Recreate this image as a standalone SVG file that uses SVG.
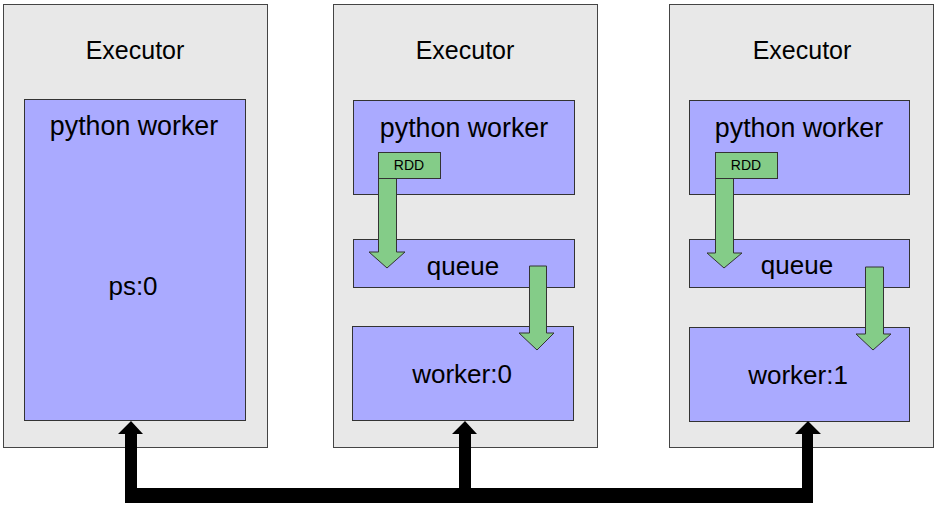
<svg xmlns="http://www.w3.org/2000/svg" width="939" height="511" viewBox="0 0 939 511">
<style>
.exec{fill:#e8e8e8;stroke:#444;stroke-width:1}
.box{fill:#aaaaff;stroke:#333;stroke-width:1}
.green{fill:#84cc88;stroke:#333;stroke-width:1}
.t{font-family:"Liberation Sans",Arial,sans-serif;fill:#000;text-anchor:middle}
.t24{font-size:25px}
.t26{font-size:26px}
.tpw{font-size:26.8px}
.t14{font-size:14px}
.conn{fill:#000;stroke:none}
</style>
<rect width="939" height="511" fill="#fff"/>
<g id="executor-1">
<rect class="exec" x="3.5" y="4.5" width="264" height="443"/>
<text class="t t24" x="135" y="59">Executor</text>
</g>
<g id="ps0">
<rect class="box" x="24.5" y="99.5" width="221" height="321"/>
<text class="t tpw" x="134" y="135">python worker</text>
<text class="t t26" x="133" y="295">ps:0</text>
</g>
<g id="executor-2">
<rect class="exec" x="333.5" y="4.5" width="264" height="443"/>
<text class="t t24" x="465" y="59">Executor</text>
</g>
<g id="python-worker-2">
<rect class="box" x="353.5" y="100.5" width="221" height="94"/>
<text class="t tpw" x="464" y="137">python worker</text>
</g>
<g id="queue-2">
<rect class="box" x="353.5" y="239.5" width="221" height="48"/>
<text class="t t26" x="463" y="275">queue</text>
</g>
<g id="worker0">
<rect class="box" x="352.5" y="326.5" width="221" height="94"/>
<text class="t t26" x="462" y="383">worker:0</text>
</g>
<g id="executor-3">
<rect class="exec" x="669.5" y="4.5" width="264" height="443"/>
<text class="t t24" x="802" y="59">Executor</text>
</g>
<g id="python-worker-3">
<rect class="box" x="689.5" y="100.5" width="220" height="94"/>
<text class="t tpw" x="799" y="137">python worker</text>
</g>
<g id="queue-3">
<rect class="box" x="689.5" y="239.5" width="220" height="48"/>
<text class="t t26" x="797" y="274">queue</text>
</g>
<g id="worker1">
<rect class="box" x="689.5" y="327.5" width="220" height="94"/>
<text class="t t26" x="798" y="384">worker:1</text>
</g>
<g id="connectors">
<polygon class="green" points="378.5,178 396.5,178 396.5,252 405,252 387,268 369,252 378.5,252"/>
<polygon class="green" points="529.5,266 546.5,266 546.5,333 554,333 537,350 519,333 529.5,333"/>
<polygon class="green" points="715.5,178 733.5,178 733.5,253 742,253 724,268 707,253 715.5,253"/>
<polygon class="green" points="865.5,267 883.5,267 883.5,334 891,334 873,350 856,334 865.5,334"/>
<polygon class="conn" points="125,503 813,503 813,434 821,434 808,421 795,434 802,434 802,488 471,488 471,434 477,434 465,421 452,434 459,434 459,488 137,488 137,434 143,434 131,421 118,434 125,434"/>
</g>
<g id="rdd-2">
<rect class="green" x="378.5" y="152.5" width="62" height="26"/>
<text class="t t14" x="409" y="170">RDD</text>
</g>
<g id="rdd-3">
<rect class="green" x="715.5" y="152.5" width="62" height="26"/>
<text class="t t14" x="746" y="170">RDD</text>
</g>
</svg>
